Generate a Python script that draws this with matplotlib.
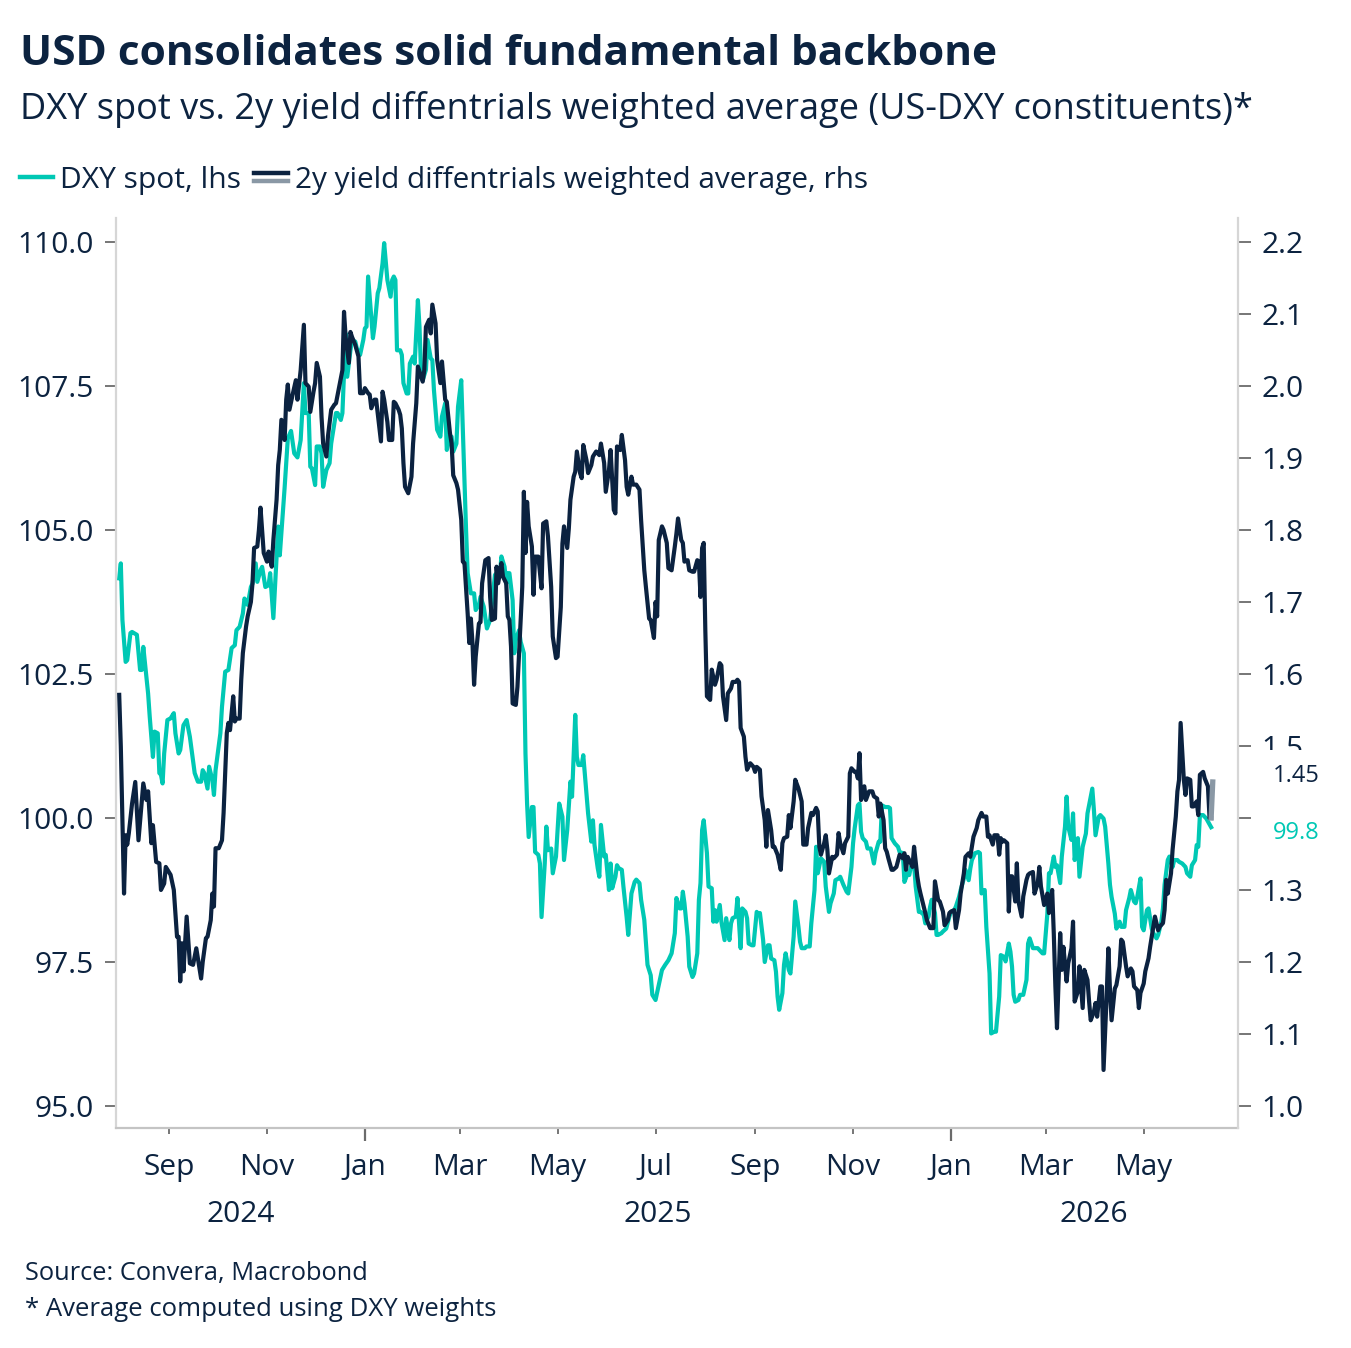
import matplotlib
matplotlib.use("Agg")
import matplotlib.pyplot as plt
import matplotlib.dates as mdates
import matplotlib.transforms as mtransforms
from matplotlib.lines import Line2D
from matplotlib.ticker import FormatStrFormatter
import pandas as pd

plt.rcParams["font.family"] = ["Open Sans", "DejaVu Sans"]

NAVY = "#0b2240"
TEAL = "#00c8b4"
GREY = "#8a98a5"
TXT = "#0c2340"

title = "USD consolidates solid fundamental backbone"
subtitle = "DXY spot vs. 2y yield diffentrials weighted average (US-DXY constituents)*"
legend_labels = ["DXY spot, lhs", "2y yield diffentrials weighted average, rhs"]
source = "Source: Convera, Macrobond"
footnote = "* Average computed using DXY weights"

# DXY spot (lhs): observation days by month, values in the same order
dxy_days = [
    ("2024-08", [1, 2, 3, 5, 6, 8, 9, 12, 14, 15, 16, 19, 20, 22, 23, 25, 26, 27, 28, 29, 31]),
    ("2024-09", [2, 4, 5, 7, 8, 10, 12, 14, 16, 17, 19, 21, 22, 23, 25, 26, 28, 29, 30]),
    ("2024-10", [3, 4, 6, 8, 10, 12, 13, 15, 17, 18, 20, 22, 23, 25, 26, 28, 29, 31]),
    ("2024-11", [2, 3, 5, 8, 9, 12, 14, 16, 18, 20, 22, 24, 25, 27, 28, 29]),
    ("2024-12", [1, 2, 4, 5, 6, 8, 10, 11, 13, 14, 15, 17, 18, 20, 21, 23, 24, 26, 27, 29, 31]),
    ("2025-01", [1, 2, 3, 4, 6, 7, 9, 10, 12, 13, 15, 17, 18, 19, 20, 21, 23, 24, 25, 27, 28, 29, 31]),
    ("2025-02", [1, 3, 4, 5, 6, 8, 9, 11, 12, 13, 15, 17, 18, 20, 21, 23, 24, 25, 27, 28]),
    ("2025-03", [2, 3, 5, 6, 8, 10, 11, 13, 14, 16, 18, 20, 22, 23, 24, 26, 27, 29, 30, 31]),
    ("2025-04", [1, 3, 4, 5, 7, 8, 10, 11, 12, 13, 15, 16, 17, 19, 20, 21, 23, 24, 25, 27, 28, 30]),
    ("2025-05", [2, 4, 5, 7, 9, 10, 12, 13, 14, 16, 17, 19, 20, 22, 23, 24, 26, 27, 28, 30, 31]),
    ("2025-06", [2, 3, 4, 6, 7, 8, 10, 11, 13, 14, 16, 18, 19, 21, 22, 24, 26, 28, 29]),
    ("2025-07", [1, 3, 5, 7, 9, 11, 13, 14, 16, 17, 18, 19, 21, 22, 24, 25, 27, 28, 29, 30, 31]),
    ("2025-08", [2, 3, 5, 6, 7, 8, 10, 11, 13, 14, 16, 17, 18, 20, 21, 23, 24, 26, 27, 28, 30, 31]),
    ("2025-09", [2, 3, 4, 6, 7, 9, 10, 11, 13, 14, 15, 16, 18, 19, 20, 22, 23, 25, 26, 28, 29, 30]),
    ("2025-10", [2, 3, 5, 6, 8, 9, 10, 12, 14, 15, 17, 18, 20, 21, 23, 24, 26, 28, 29, 31]),
    ("2025-11", [1, 2, 4, 5, 6, 7, 9, 10, 12, 14, 15, 17, 18, 19, 21, 23, 24, 25, 27, 29, 30]),
    ("2025-12", [2, 3, 5, 6, 7, 9, 10, 12, 13, 15, 16, 18, 19, 20, 22, 23, 24, 26, 27, 29, 31]),
    ("2026-01", [1, 3, 4, 6, 7, 9, 10, 12, 13, 14, 16, 18, 19, 20, 22, 23, 25, 26, 28, 29, 31]),
    ("2026-02", [1, 3, 4, 6, 7, 8, 9, 10, 12, 13, 15, 17, 18, 19, 21, 22, 24, 25, 27, 28]),
    ("2026-03", [2, 3, 4, 6, 7, 8, 10, 11, 13, 14, 15, 17, 18, 19, 21, 22, 24, 26, 27, 29, 30, 31]),
    ("2026-04", [1, 3, 4, 6, 7, 9, 10, 11, 13, 14, 16, 17, 19, 20, 22, 23, 25, 26, 27, 29, 30]),
    ("2026-05", [1, 3, 4, 6, 7, 9, 10, 12, 13, 14, 16, 17, 19, 20, 22, 23, 25, 27, 28, 30, 31]),
    ("2026-06", [2, 3, 4, 5, 7, 9, 10, 12]),
]
dxy_values = [
    104.16, 104.42, 103.44, 102.71, 102.74, 103.21, 103.23, 103.18, 102.57, 102.57, 102.97, 102.16, 101.76, 101.06, 101.50, 101.47, 100.78, 100.75, 100.60, 101.12, 101.70,
    101.73, 101.82, 101.47, 101.12, 101.18, 101.61, 101.70, 101.41, 100.98, 100.78, 100.63, 100.63, 100.83, 100.78, 100.51, 100.89, 100.66, 100.40, 100.83,
    101.47, 101.93, 102.54, 102.57, 102.95, 103.00, 103.26, 103.32, 103.55, 103.81, 103.70, 104.01, 104.07, 104.42, 104.10, 104.30, 104.36, 104.01,
    104.04, 104.25, 103.47, 105.06, 104.56, 105.73, 106.59, 106.72, 106.33, 106.26, 106.56, 107.55, 107.03, 107.03, 106.10, 106.07,
    105.78, 106.45, 106.45, 106.33, 105.75, 106.04, 106.16, 106.50, 106.85, 107.03, 107.03, 106.91, 107.03, 108.41, 107.66, 108.12, 108.30, 108.27, 108.15, 108.04, 108.30,
    108.50, 108.53, 109.40, 109.05, 108.33, 108.53, 109.11, 109.20, 109.63, 109.98, 109.34, 109.05, 109.34, 109.40, 109.34, 108.12, 108.12, 108.04, 107.55, 107.37, 107.37, 107.89, 108.01,
    107.89, 108.99, 108.53, 107.72, 107.60, 107.78, 108.30, 107.98, 107.95, 107.43, 106.74, 106.62, 106.97, 107.20, 106.39, 106.62, 106.62, 106.36, 106.50, 107.14,
    107.60, 106.74, 105.00, 104.25, 103.90, 103.90, 103.61, 103.70, 103.84, 103.67, 103.29, 103.44, 103.96, 104.22, 104.25, 104.19, 104.54, 104.36, 104.07, 104.25,
    104.25, 103.78, 102.86, 103.09, 103.26, 103.06, 102.86, 101.12, 100.25, 99.67, 100.19, 100.19, 99.41, 99.36, 99.21, 98.28, 99.21, 99.85, 99.44, 99.47, 99.04, 99.33,
    100.25, 100.02, 99.27, 99.79, 100.63, 100.37, 101.79, 101.06, 100.92, 100.92, 101.09, 100.43, 100.08, 99.59, 99.96, 99.53, 99.13, 98.98, 99.88, 99.33, 99.36,
    98.75, 99.21, 98.78, 98.98, 99.18, 99.13, 99.10, 98.81, 98.28, 97.97, 98.69, 98.89, 98.93, 98.87, 98.58, 98.23, 97.45, 97.27, 96.93,
    96.84, 97.10, 97.36, 97.45, 97.53, 97.65, 98.00, 98.61, 98.43, 98.43, 98.72, 98.52, 97.94, 97.42, 97.24, 97.30, 97.65, 98.58, 98.87, 99.79, 99.96,
    99.39, 98.81, 98.78, 98.20, 98.40, 98.20, 98.49, 98.20, 97.88, 98.26, 97.88, 98.17, 98.26, 98.29, 98.61, 97.74, 98.43, 98.37, 98.26, 97.82, 97.79, 97.79,
    98.37, 98.32, 98.35, 97.88, 97.50, 97.79, 97.79, 97.56, 97.53, 97.33, 96.90, 96.67, 96.96, 97.45, 97.65, 97.36, 97.30, 97.94, 98.55, 98.11, 97.85, 97.74,
    97.74, 97.77, 97.77, 98.17, 98.75, 99.50, 99.04, 99.30, 99.24, 98.81, 98.37, 98.52, 98.69, 98.92, 98.95, 98.98, 98.84, 98.72, 98.69, 99.15,
    99.56, 99.82, 100.22, 100.25, 99.76, 99.65, 99.59, 99.47, 99.47, 99.21, 99.39, 99.59, 99.59, 100.22, 100.19, 100.19, 100.17, 99.65, 99.56, 99.50, 99.41,
    99.39, 98.89, 99.04, 99.01, 99.15, 99.21, 98.81, 98.37, 98.37, 98.32, 98.17, 98.29, 98.46, 98.58, 98.35, 97.97, 97.97, 98.00, 98.03, 98.08, 98.29,
    98.37, 98.40, 98.46, 98.63, 98.75, 98.95, 99.10, 98.92, 99.12, 99.27, 99.39, 99.41, 99.39, 98.69, 98.75, 98.11, 97.30, 96.26, 96.29, 96.29, 96.90,
    97.62, 97.59, 97.51, 97.82, 97.68, 97.42, 96.93, 96.81, 96.84, 96.93, 96.93, 97.19, 97.82, 97.91, 97.74, 97.74, 97.74, 97.71, 97.65, 97.65,
    98.34, 99.04, 99.04, 99.33, 99.15, 99.18, 98.87, 99.33, 99.85, 100.37, 99.85, 99.62, 100.08, 99.27, 99.65, 98.98, 99.50, 99.73, 100.08, 100.37, 100.51, 100.14,
    99.70, 100.02, 100.05, 99.99, 99.85, 99.21, 98.84, 98.63, 98.34, 98.08, 98.20, 98.11, 98.11, 98.40, 98.61, 98.75, 98.55, 98.52, 98.63, 98.95, 98.11,
    98.05, 98.40, 98.43, 98.08, 98.00, 97.91, 97.97, 98.20, 98.43, 98.84, 99.27, 99.33, 99.15, 99.27, 99.27, 99.24, 99.21, 99.15, 99.04, 98.98, 99.18,
    99.27, 99.53, 99.50, 100.05, 100.05, 99.99, 99.94, 99.84,
]

# 2y yield differentials weighted average (rhs)
spread_days = [
    ("2024-08", [1, 2, 4, 5, 6, 7, 9, 11, 13, 16, 18, 19, 21, 22, 24, 26, 27, 29, 30]),
    ("2024-09", [2, 4, 6, 7, 8, 9, 10, 12, 14, 16, 18, 21, 22, 24, 25, 27, 28, 29, 30]),
    ("2024-10", [2, 4, 5, 7, 8, 9, 11, 12, 13, 15, 16, 17, 19, 20, 22, 23, 24, 26, 27, 28, 30]),
    ("2024-11", [1, 2, 4, 5, 7, 8, 9, 10, 12, 13, 14, 15, 17, 19, 20, 22, 24, 25, 27, 28, 30]),
    ("2024-12", [1, 2, 4, 5, 6, 8, 9, 11, 13, 14, 16, 18, 19, 20, 22, 23, 24, 26, 28, 29, 31]),
    ("2025-01", [1, 3, 4, 5, 7, 8, 10, 11, 12, 13, 15, 16, 18, 19, 20, 22, 23, 24, 25, 26, 28, 30, 31]),
    ("2025-02", [2, 3, 5, 6, 7, 8, 10, 11, 12, 14, 15, 17, 18, 20, 21, 23, 24, 25, 27, 28]),
    ("2025-03", [2, 3, 4, 6, 7, 8, 9, 10, 11, 13, 14, 15, 17, 19, 20, 21, 23, 24, 25, 27, 28, 30, 31]),
    ("2025-04", [1, 2, 3, 5, 6, 7, 9, 10, 11, 12, 13, 15, 16, 17, 19, 21, 22, 24, 25, 27, 28, 30]),
    ("2025-05", [1, 3, 4, 5, 7, 8, 9, 11, 12, 13, 15, 16, 17, 19, 20, 22, 23, 25, 27, 28, 30, 31]),
    ("2025-06", [2, 3, 5, 6, 7, 9, 10, 12, 13, 14, 16, 17, 19, 21, 22, 24, 25, 27, 28, 30]),
    ("2025-07", [1, 2, 3, 5, 6, 8, 9, 11, 13, 14, 15, 17, 18, 19, 21, 22, 24, 25, 27, 28, 29, 30, 31]),
    ("2025-08", [1, 2, 4, 5, 7, 8, 10, 11, 12, 14, 15, 17, 18, 20, 21, 22, 23, 25, 26, 27, 29, 31]),
    ("2025-09", [1, 2, 4, 5, 7, 8, 9, 11, 12, 13, 15, 17, 18, 19, 21, 22, 23, 25, 26, 28, 30]),
    ("2025-10", [1, 3, 4, 6, 7, 9, 10, 11, 12, 14, 15, 16, 17, 19, 20, 22, 23, 24, 26, 27, 29, 30, 31]),
    ("2025-11", [2, 3, 4, 5, 6, 8, 9, 11, 13, 14, 16, 17, 18, 20, 21, 22, 23, 25, 26, 28, 30]),
    ("2025-12", [2, 3, 4, 5, 7, 8, 9, 11, 12, 13, 15, 16, 17, 19, 21, 22, 24, 25, 27, 28, 30, 31]),
    ("2026-01", [1, 3, 4, 6, 7, 9, 10, 12, 13, 15, 17, 18, 20, 21, 23, 24, 25, 27, 28, 30, 31]),
    ("2026-02", [1, 2, 3, 5, 6, 7, 8, 10, 11, 12, 14, 15, 17, 18, 19, 21, 22, 24, 25, 26, 28]),
    ("2026-03", [2, 3, 5, 6, 7, 8, 10, 11, 12, 14, 15, 17, 18, 19, 21, 22, 24, 25, 27, 28, 29, 31]),
    ("2026-04", [1, 2, 4, 5, 6, 8, 9, 10, 11, 13, 14, 16, 17, 18, 20, 21, 23, 24, 25, 27, 28, 29]),
    ("2026-05", [1, 2, 4, 5, 7, 8, 10, 11, 13, 14, 15, 16, 18, 19, 21, 22, 23, 24, 26, 27, 28, 30, 31]),
    ("2026-06", [1, 3, 4, 5, 7, 8, 10, 11, 12]),
]
spread_values = [
    1.571, 1.499, 1.295, 1.376, 1.363, 1.379, 1.420, 1.450, 1.369, 1.448, 1.425, 1.437, 1.365, 1.390, 1.339, 1.337, 1.300, 1.309, 1.332,
    1.321, 1.300, 1.235, 1.235, 1.173, 1.226, 1.187, 1.263, 1.198, 1.196, 1.219, 1.177, 1.200, 1.233, 1.235, 1.258, 1.295, 1.277, 1.358,
    1.358, 1.369, 1.407, 1.518, 1.532, 1.522, 1.569, 1.534, 1.538, 1.538, 1.592, 1.629, 1.666, 1.680, 1.700, 1.726, 1.775, 1.777, 1.800, 1.831, 1.768,
    1.756, 1.770, 1.749, 1.786, 1.842, 1.890, 1.911, 1.953, 1.925, 1.981, 2.002, 1.967, 1.988, 2.008, 1.981, 2.022, 2.085, 2.004, 1.999, 1.964, 1.992,
    2.004, 2.032, 2.013, 1.957, 1.920, 1.902, 1.930, 1.967, 1.974, 1.976, 1.999, 2.022, 2.103, 2.068, 2.032, 2.075, 2.068, 2.057, 2.041, 1.990, 1.990,
    1.997, 1.990, 1.988, 1.969, 1.981, 1.981, 1.943, 1.923, 1.992, 1.981, 1.950, 1.925, 1.925, 1.978, 1.976, 1.967, 1.960, 1.941, 1.893, 1.860, 1.851, 1.874, 1.920,
    1.976, 2.027, 2.013, 2.006, 2.022, 2.082, 2.092, 2.073, 2.113, 2.087, 2.036, 2.004, 2.034, 1.981, 1.978, 1.934, 1.920, 1.876, 1.865, 1.856,
    1.814, 1.756, 1.754, 1.684, 1.643, 1.677, 1.643, 1.585, 1.624, 1.670, 1.672, 1.726, 1.758, 1.761, 1.707, 1.675, 1.677, 1.749, 1.726, 1.754, 1.735, 1.726, 1.680,
    1.675, 1.638, 1.559, 1.557, 1.582, 1.629, 1.721, 1.853, 1.768, 1.839, 1.805, 1.777, 1.710, 1.763, 1.763, 1.719, 1.809, 1.812, 1.791, 1.721, 1.652, 1.622,
    1.624, 1.693, 1.781, 1.805, 1.775, 1.802, 1.842, 1.874, 1.881, 1.909, 1.879, 1.872, 1.918, 1.897, 1.879, 1.890, 1.902, 1.909, 1.904, 1.920, 1.893, 1.853,
    1.883, 1.911, 1.828, 1.823, 1.916, 1.911, 1.932, 1.897, 1.860, 1.849, 1.874, 1.863, 1.863, 1.856, 1.814, 1.744, 1.721, 1.677, 1.675, 1.650,
    1.700, 1.680, 1.786, 1.805, 1.800, 1.782, 1.747, 1.744, 1.777, 1.795, 1.816, 1.786, 1.782, 1.756, 1.758, 1.744, 1.742, 1.742, 1.758, 1.756, 1.707, 1.775, 1.782,
    1.661, 1.569, 1.564, 1.606, 1.585, 1.592, 1.615, 1.612, 1.569, 1.536, 1.573, 1.580, 1.589, 1.589, 1.592, 1.589, 1.525, 1.513, 1.485, 1.467, 1.476, 1.471,
    1.464, 1.471, 1.467, 1.430, 1.397, 1.360, 1.411, 1.383, 1.360, 1.360, 1.349, 1.328, 1.365, 1.372, 1.374, 1.404, 1.386, 1.423, 1.453, 1.441, 1.423,
    1.363, 1.363, 1.386, 1.407, 1.404, 1.414, 1.409, 1.360, 1.349, 1.365, 1.376, 1.356, 1.323, 1.346, 1.344, 1.349, 1.379, 1.365, 1.351, 1.365, 1.374, 1.462, 1.469,
    1.464, 1.464, 1.455, 1.490, 1.425, 1.444, 1.425, 1.437, 1.437, 1.430, 1.427, 1.402, 1.420, 1.397, 1.358, 1.353, 1.344, 1.328, 1.328, 1.332, 1.349,
    1.344, 1.351, 1.328, 1.346, 1.337, 1.332, 1.360, 1.319, 1.305, 1.295, 1.277, 1.268, 1.258, 1.247, 1.247, 1.312, 1.286, 1.284, 1.270, 1.251, 1.258, 1.268,
    1.270, 1.272, 1.247, 1.272, 1.295, 1.323, 1.346, 1.351, 1.346, 1.374, 1.386, 1.397, 1.407, 1.402, 1.402, 1.374, 1.376, 1.363, 1.376, 1.376, 1.349,
    1.372, 1.367, 1.369, 1.365, 1.270, 1.319, 1.319, 1.284, 1.337, 1.284, 1.263, 1.291, 1.314, 1.321, 1.323, 1.325, 1.295, 1.309, 1.332, 1.305, 1.279,
    1.295, 1.268, 1.300, 1.240, 1.166, 1.108, 1.240, 1.189, 1.221, 1.173, 1.198, 1.219, 1.256, 1.145, 1.159, 1.194, 1.136, 1.189, 1.175, 1.145, 1.119, 1.131,
    1.143, 1.124, 1.166, 1.166, 1.050, 1.157, 1.219, 1.161, 1.119, 1.163, 1.168, 1.194, 1.231, 1.228, 1.194, 1.180, 1.191, 1.187, 1.166, 1.161, 1.136, 1.157,
    1.170, 1.187, 1.205, 1.221, 1.249, 1.263, 1.244, 1.249, 1.254, 1.272, 1.314, 1.295, 1.323, 1.356, 1.402, 1.437, 1.453, 1.532, 1.453, 1.432, 1.455, 1.453, 1.416,
    1.416, 1.423, 1.404, 1.460, 1.464, 1.455, 1.444, 1.400, 1.400,
]
# latest (provisional) print, drawn in grey
spread_latest_date = "2026-06-13"
spread_latest_value = 1.45

dxy_dates = [f"{m}-{d:02d}" for m, days in dxy_days for d in days]
spread_dates = [f"{m}-{d:02d}" for m, days in spread_days for d in days]
dxy = pd.Series(dxy_values, index=pd.to_datetime(dxy_dates))
spread = pd.Series(spread_values, index=pd.to_datetime(spread_dates))

W, H = 1351, 1348
fig = plt.figure(figsize=(W / 100, H / 100), dpi=100)
ax = fig.add_axes([116 / W, 1 - 1128 / H, (1237.5 - 116) / W, (1128 - 217.5) / H])
ax2 = ax.twinx()

ax.plot(dxy.index, dxy.values, color=TEAL, lw=3.0)
ax2.plot(spread.index, spread.values, color=NAVY, lw=3.0)
ax2.plot([spread.index[-1], pd.Timestamp(spread_latest_date)],
         [spread.values[-1], spread_latest_value], color=GREY, lw=3.8)

ax.set_xlim(pd.Timestamp("2024-07-30"), pd.Timestamp("2026-06-28 10:00"))
ax.set_ylim(94.618, 110.425)
ax2.set_ylim(0.9694, 2.234)

# spines
for s in ["top", "right"]:
    ax.spines[s].set_visible(False)
for s in ["top", "left", "bottom"]:
    ax2.spines[s].set_visible(False)
ax.spines["left"].set_color("#d6d6d6")
ax.spines["left"].set_linewidth(1.6)
ax2.spines["right"].set_color("#d6d6d6")
ax2.spines["right"].set_linewidth(1.6)
ax.spines["bottom"].set_color("#c4c4c4")
ax.spines["bottom"].set_linewidth(1.6)

# y axes
ax.set_yticks([95, 97.5, 100, 102.5, 105, 107.5, 110])
ax.yaxis.set_major_formatter(FormatStrFormatter("%.1f"))
ax.tick_params(axis="y", length=8, width=1.3, color="#6b6b6b", labelsize=21.5,
               labelcolor=TXT, pad=8)
ax2.set_yticks([1.0, 1.1, 1.2, 1.3, 1.4, 1.5, 1.6, 1.7, 1.8, 1.9, 2.0, 2.1, 2.2])
ax2.yaxis.set_major_formatter(FormatStrFormatter("%.1f"))
ax2.tick_params(axis="y", length=9, width=1.3, color="#6b6b6b", labelsize=21.5,
                labelcolor=TXT, pad=8)

# x axis: month labels every other month, longer ticks at year starts
ax.xaxis.set_major_locator(mdates.MonthLocator(bymonth=[1, 3, 5, 7, 9, 11]))
ax.xaxis.set_major_formatter(mdates.DateFormatter("%b"))
ax.xaxis.set_minor_locator(mdates.YearLocator())
ax.xaxis.remove_overlapping_locs = False
ax.tick_params(axis="x", which="major", length=4, width=1.3, color="#6b6b6b",
               labelsize=21.5, labelcolor=TXT, pad=14)
ax.tick_params(axis="x", which="minor", length=9, width=1.6, color="#6b6b6b")

# year labels centred under the visible part of each year
xmin, xmax = ax.get_xlim()
ytrans = mtransforms.blended_transform_factory(ax.transData, ax.transAxes)
for yr in [2024, 2025, 2026]:
    a = max(xmin, mdates.date2num(pd.Timestamp(f"{yr}-01-01")))
    b = min(xmax, mdates.date2num(pd.Timestamp(f"{yr + 1}-01-01")))
    ax.text((a + b) / 2, -0.0945, str(yr), transform=ytrans, ha="center",
            va="center", fontsize=21.5, color=TXT)

# end-of-series labels (white boxes hide the tick labels behind them)
lab_x = (1273 - 116) / (1237.5 - 116)
ax2.annotate(f"{spread_latest_value:.2f}", xy=(lab_x, spread_latest_value),
             xycoords=mtransforms.blended_transform_factory(ax2.transAxes, ax2.transData),
             xytext=(0, 4), textcoords="offset points", ha="left", va="center",
             fontsize=17, color=NAVY, annotation_clip=False,
             bbox=dict(boxstyle="square,pad=0.62", fc="white", ec="none"))
ax2.annotate(f"{dxy.values[-1]:.1f}", xy=(lab_x, dxy.values[-1]),
             xycoords=mtransforms.blended_transform_factory(ax2.transAxes, ax.transData),
             xytext=(0, -4), textcoords="offset points", ha="left", va="center",
             fontsize=17, color=TEAL, annotation_clip=False,
             bbox=dict(boxstyle="square,pad=0.65", fc="white", ec="none"))

# header, legend and footer
renderer = fig.canvas.get_renderer()


def put(x, y, s, width, **kw):
    t = fig.text(x / W, 1 - y / H, s, va="baseline", color=TXT, fontsize=20, **kw)
    t.set_fontsize(20 * width / t.get_window_extent(renderer).width)
    return t


put(20, 65, title, 978, fontweight="bold")
put(20, 119, subtitle, 1230)
put(60, 188, legend_labels[0], 181)
put(295, 188, legend_labels[1], 572)
put(25, 1280, source, 342)
put(25, 1316, footnote, 470)

fig.add_artist(Line2D([20 / W, 53 / W], [1 - 177 / H] * 2, color=TEAL, lw=3.2))
fig.add_artist(Line2D([254 / W, 288 / W], [1 - 173 / H] * 2, color=NAVY, lw=3.2))
fig.add_artist(Line2D([254 / W, 288 / W], [1 - 181 / H] * 2, color=GREY, lw=3.2))

fig.savefig("out.png", dpi=100, facecolor="white")
